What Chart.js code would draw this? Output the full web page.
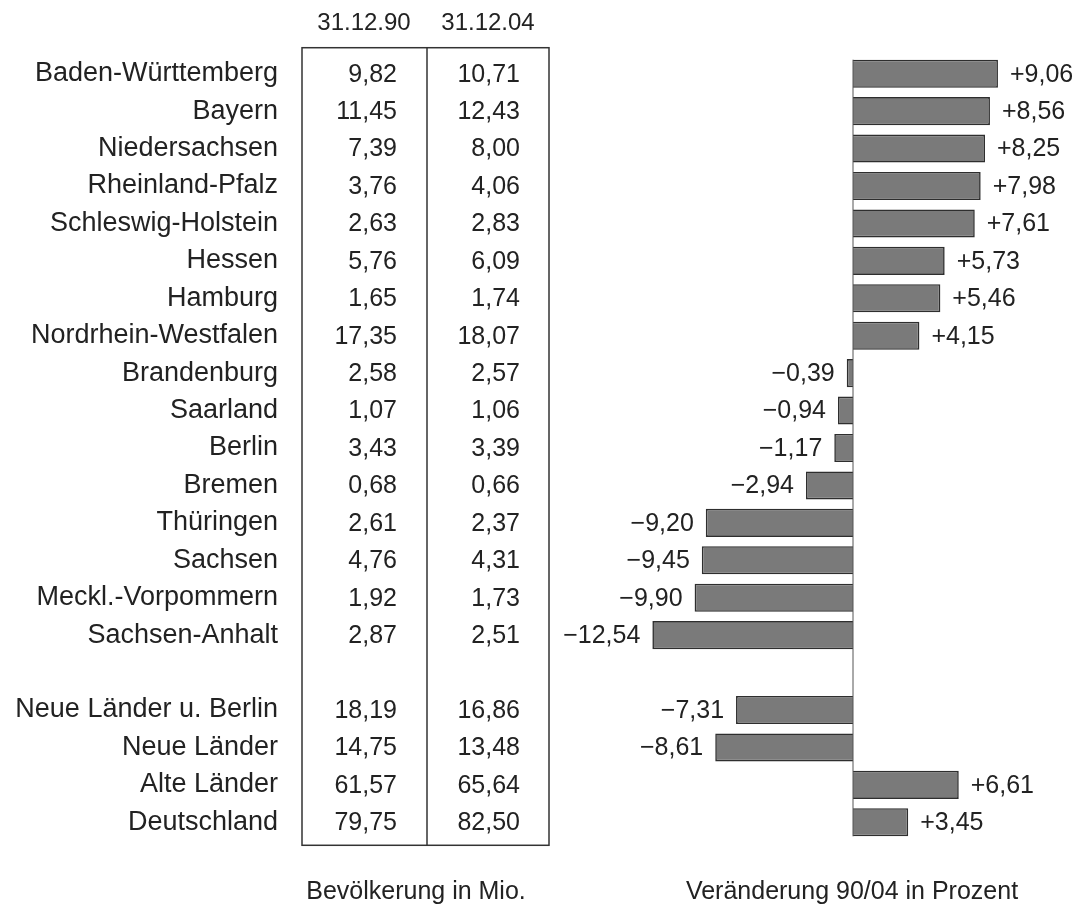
<!DOCTYPE html>
<html>
<head>
<meta charset="utf-8">
<script src="https://cdn.jsdelivr.net/npm/chart.js@4"></script>
<style>
  body { margin: 0; background: #fff; }
  #wrap { width: 1079px; height: 909px; }
</style>
</head>
<body>
<div id="wrap"><canvas id="laenderGraph"></canvas></div>
<script>
const laender = [
    "Baden-Württemberg", "Bayern", "Niedersachsen", "Rheinland-Pfalz", "Schleswig-Holstein",
    "Hessen", "Hamburg", "Nordrhein-Westfalen", "Brandenburg", "Saarland", "Berlin", "Bremen",
    "Thüringen", "Sachsen", "Meckl.-Vorpommern", "Sachsen-Anhalt", "",
    "Neue Länder u. Berlin", "Neue Länder", "Alte Länder", "Deutschland"];
const bev1990 = [9.82, 11.45, 7.39, 3.76, 2.63, 5.76, 1.65, 17.35, 2.58, 1.07, 3.43, 0.68,
    2.61, 4.76, 1.92, 2.87, null, 18.19, 14.75, 61.57, 79.75];
const bev2004 = [10.71, 12.43, 8.00, 4.06, 2.83, 6.09, 1.74, 18.07, 2.57, 1.06, 3.39, 0.66,
    2.37, 4.31, 1.73, 2.51, null, 16.86, 13.48, 65.64, 82.50];
const veraenderung = [9.06, 8.56, 8.25, 7.98, 7.61, 5.73, 5.46, 4.15, -0.39, -0.94, -1.17, -2.94,
    -9.20, -9.45, -9.90, -12.54, null, -7.31, -8.61, 6.61, 3.45];
const spalten = ["31.12.90", "31.12.04"];
const fussText = ["Bevölkerung in Mio.", "Veränderung 90/04 in Prozent"];

const familie = '"Liberation Sans", Arial, sans-serif';
const textFarbe = '#222';

const fmt = v => v.toFixed(2).replace('.', ',');

const tabellePlugin = {
    id: 'tabelle',
    afterDatasetsDraw(chart) {
        const c = chart.ctx;
        const y = chart.scales.y;
        const x = chart.scales.x;
        const first = y.getPixelForValue(0);
        const last = y.getPixelForValue(laender.length - 1);
        c.save();
        c.fillStyle = textFarbe;
        c.textBaseline = 'middle';

        // Kopfzeile
        c.font = '24px ' + familie;
        c.textAlign = 'center';
        c.fillText(spalten[0], 364, 23);
        c.fillText(spalten[1], 488, 23);

        // Rahmen
        c.strokeStyle = '#333';
        c.lineWidth = 1.5;
        const top = first - 26, bottom = last + 23;
        c.strokeRect(302, top, 247, bottom - top);
        c.beginPath();
        c.moveTo(427, top);
        c.lineTo(427, bottom);
        c.stroke();

        // Werte
        c.font = '25px ' + familie;
        c.textAlign = 'right';
        laender.forEach((l, i) => {
            if (bev1990[i] === null) return;
            const py = y.getPixelForValue(i) + 1;
            c.fillText(fmt(bev1990[i]), 397, py);
            c.fillText(fmt(bev2004[i]), 520, py);
        });

        // Nulllinie
        const x0 = x.getPixelForValue(0);
        c.strokeStyle = '#555';
        c.lineWidth = 1;
        c.beginPath();
        c.moveTo(x0, first - 14);
        c.lineTo(x0, last + 14);
        c.stroke();

        // Balkenwerte
        const meta = chart.getDatasetMeta(0);
        meta.data.forEach((bar, i) => {
            const v = veraenderung[i];
            if (v === null) return;
            if (v >= 0) {
                c.textAlign = 'left';
                c.fillText('+' + fmt(v), bar.x + 12, bar.y + 1);
            } else {
                c.textAlign = 'right';
                c.fillText('\u2212' + fmt(-v), bar.x - 12, bar.y + 1);
            }
        });

        // Fusszeile
        c.textAlign = 'center';
        c.fillText(fussText[0], 416, 892);
        c.fillText(fussText[1], 852, 892);
        c.restore();
    }
};

new Chart(document.getElementById('laenderGraph').getContext('2d'), {
    type: 'bar',
    data: {
        labels: laender,
        datasets: [{
            data: veraenderung,
            backgroundColor: '#7a7a7a',
            borderColor: '#2e2e2e',
            borderWidth: 1.6,
            barPercentage: 0.75,
            categoryPercentage: 1
        }]
    },
    options: {
        indexAxis: 'y',
        responsive: true,
        maintainAspectRatio: false,
        animation: false,
        layout: {
            padding: { top: 55, bottom: 68, left: 0, right: 66 }
        },
        scales: {
            x: {
                display: false,
                min: -18,
                max: 10
            },
            y: {
                grid: { display: false },
                border: { display: false },
                afterFit: scale => {
                    scale.width = 565;
                    scale.paddingTop = 0;
                    scale.paddingBottom = 0;
                },
                ticks: {
                    padding: 279,
                    color: textFarbe,
                    font: { family: familie, size: 27 }
                }
            }
        },
        plugins: {
            legend: { display: false },
            tooltip: { enabled: false }
        }
    },
    plugins: [tabellePlugin]
});
</script>
</body>
</html>
